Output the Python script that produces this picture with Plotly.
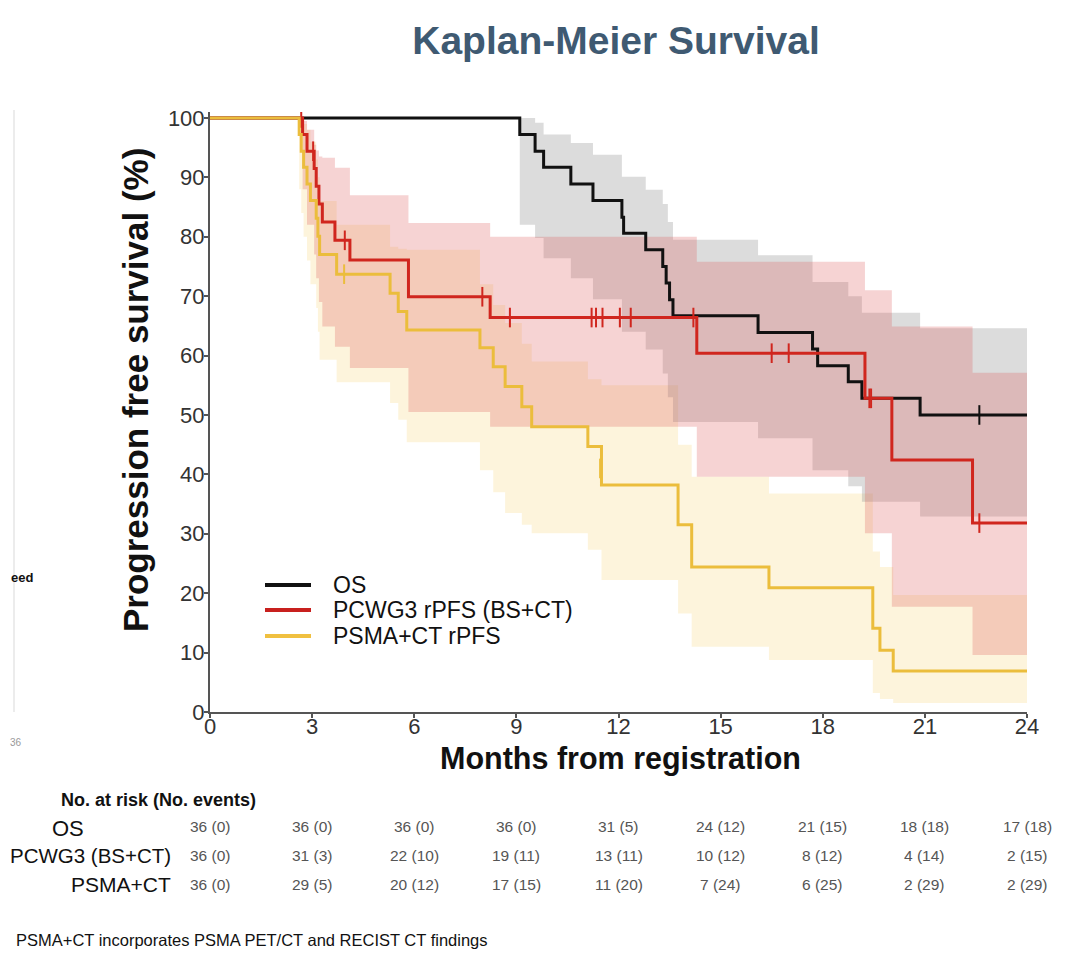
import plotly.graph_objects as go

# ---------------- data ----------------
# Kaplan-Meier step curves: times (months) and survival (%)
os_t = [0, 9.1, 9.55, 9.8, 10.6, 11.25, 12.1, 12.15, 12.8, 13.3, 13.4, 13.5, 13.6, 16.1, 17.7, 17.85, 18.75, 19.15, 20.86, 24]
os_s = [100, 97.2, 94.4, 91.7, 88.9, 86.1, 83.3, 80.6, 77.8, 75.0, 72.2, 69.4, 66.7, 63.9, 61.1, 58.3, 55.6, 52.8, 50.0, 50.0]
os_cens_t = [22.6]
os_cens_s = [50.0]

pc_t = [0, 2.72, 2.85, 3.06, 3.12, 3.2, 3.3, 3.67, 4.11, 5.83, 8.23, 14.3, 19.24, 20.03, 22.4, 24]
pc_s = [100, 97.2, 94.4, 91.5, 88.5, 85.5, 82.5, 79.4, 76.1, 69.9, 66.4, 60.4, 52.8, 42.4, 31.8, 31.8]
pc_cens_t = [2.68, 3.03, 3.96, 8.0, 8.81, 11.21, 11.34, 11.53, 12.04, 12.36, 14.2, 16.5, 17.0, 19.37, 19.42, 22.6]
pc_cens_s = [100, 94.4, 79.4, 69.9, 66.4, 66.4, 66.4, 66.4, 66.4, 66.4, 66.4, 60.4, 60.4, 52.8, 52.8, 31.8]

ps_t = [0, 2.62, 2.68, 2.75, 2.85, 2.95, 3.12, 3.17, 3.22, 3.72, 5.29, 5.53, 5.78, 7.93, 8.32, 8.67, 9.16, 9.45,
        11.1, 11.5, 13.75, 14.15, 16.42, 19.47, 19.68, 20.07, 24]
ps_s = [100, 97.2, 94.4, 91.7, 88.9, 86.1, 83.1, 80.1, 77.0, 73.7, 70.5, 67.4, 64.3, 61.3, 58.1, 54.8, 51.4, 48.0,
        44.7, 38.2, 31.5, 24.4, 20.9, 14.1, 10.4, 6.9, 6.9]
ps_cens_t = [3.94, 11.46]
ps_cens_s = [73.7, 41.0]

# Confidence bands (step functions): times, upper, lower
os_band_t = [9.1, 9.55, 9.8, 10.6, 11.25, 12.1, 12.8, 13.3, 13.45, 13.6, 16.1, 17.7, 18.75, 19.15, 20.86, 24]
os_band_hi = [100, 99.2, 97.2, 95.8, 93.8, 90.1, 87.9, 85.5, 82.5, 79.5, 76.9, 72.4, 70.0, 67.2, 64.6, 64.6]
os_band_lo = [82, 79.8, 76.4, 73.0, 69.5, 64.0, 61.0, 57.0, 53.0, 48.8, 46.1, 40.7, 38.0, 35.4, 32.9, 32.9]

pc_band_t = [2.72, 2.85, 3.06, 3.12, 3.2, 3.3, 3.67, 4.11, 5.83, 8.23, 14.3, 19.24, 20.03, 22.4, 24]
pc_band_hi = [99.5, 98, 95.5, 94.5, 93.5, 93.3, 91.6, 87.0, 82.3, 80.0, 75.8, 71.0, 64.9, 57.1, 57.1]
pc_band_lo = [88, 82, 77, 73, 69, 64.9, 61.5, 57.9, 50.5, 48.0, 39.6, 30.1, 17.7, 9.6, 9.6]

ps_band_t = [2.62, 2.68, 2.75, 2.85, 2.95, 3.12, 3.17, 3.22, 3.72, 5.29, 5.53, 5.78, 7.93, 8.32, 8.67, 9.16, 9.45,
             11.1, 11.5, 13.75, 14.15, 16.42, 19.47, 19.68, 20.07, 24]
ps_band_hi = [100, 99.5, 99, 98, 96, 93, 90, 86, 82, 78.3, 78, 77.8, 72, 68.5, 65.5, 62, 59,
              56, 55, 45, 39.6, 36.8, 27, 24.4, 19.7, 19.7]
ps_band_lo = [88, 84, 80, 76, 72, 68, 64, 59.3, 55.5, 52, 49.2, 45.4, 40.7, 37, 33.5, 31.5, 30.1,
              27.3, 22.2, 16.6, 11.0, 8.75, 3.2, 2.2, 1.5, 1.5]

# Number-at-risk table
risk_months = [0, 3, 6, 9, 12, 15, 18, 21, 24]
risk_os = ["36 (0)", "36 (0)", "36 (0)", "36 (0)", "31 (5)", "24 (12)", "21 (15)", "18 (18)", "17 (18)"]
risk_pc = ["36 (0)", "31 (3)", "22 (10)", "19 (11)", "13 (11)", "10 (12)", "8 (12)", "4 (14)", "2 (15)"]
risk_ps = ["36 (0)", "29 (5)", "20 (12)", "17 (15)", "11 (20)", "7 (24)", "6 (25)", "2 (29)", "2 (29)"]

x_ticks = [0, 3, 6, 9, 12, 15, 18, 21, 24]
y_ticks = [0, 10, 20, 30, 40, 50, 60, 70, 80, 90, 100]

legend_names = ["OS", "PCWG3 rPFS (BS+CT)", "PSMA+CT rPFS"]

# ---------------- style ----------------
C_OS = "#111111"
C_PC = "#d0261e"
C_PS = "#ebbd3c"
F = "Liberation Sans, Arial, sans-serif"

OFF = 8                      # page body margin
W, H = 1078 - OFF, 958 - OFF
X0, X1 = 210, 1027           # screen pixels of plot left/right
Y0, Y1 = 112, 712            # screen pixels of plot top/bottom
ML, MT = X0 - OFF, Y0 - OFF
MR, MB = W - (X1 - OFF), H - (Y1 - OFF)
PW, PH = X1 - X0, Y1 - Y0


def px(xs):
    return (xs - X0) / PW


def py(ys):
    return (Y1 - ys) / PH


fig = go.Figure()


def add_band(t, lo, hi, color):
    fig.add_trace(go.Scatter(x=t, y=lo, mode="lines", line=dict(width=0, shape="hv"),
                             showlegend=False, hoverinfo="skip"))
    fig.add_trace(go.Scatter(x=t, y=hi, mode="lines", line=dict(width=0, shape="hv"),
                             fill="tonexty", fillcolor=color, showlegend=False, hoverinfo="skip"))


add_band(ps_band_t, ps_band_lo, ps_band_hi, "rgba(245,200,80,0.20)")
add_band(os_band_t, os_band_lo, os_band_hi, "rgba(150,150,150,0.33)")
add_band(pc_band_t, pc_band_lo, pc_band_hi, "rgba(220,80,80,0.25)")

curves = [
    (legend_names[0], os_t, os_s, os_cens_t, os_cens_s, C_OS),
    (legend_names[1], pc_t, pc_s, pc_cens_t, pc_cens_s, C_PC),
    (legend_names[2], ps_t, ps_s, ps_cens_t, ps_cens_s, C_PS),
]
for name, t, s, ct, cs, col in curves:
    fig.add_trace(go.Scatter(x=t, y=s, mode="lines", name=name, showlegend=False,
                             line=dict(color=col, width=3, shape="hv")))
    fig.add_trace(go.Scatter(x=ct, y=cs, mode="markers", showlegend=False,
                             marker=dict(symbol="line-ns", size=14, line=dict(color=col, width=2))))

# ---------------- legend (drawn inside the plot) ----------------
ann = []
shapes = []
legend_cols = [C_OS, "#c8201e", "#f0c040"]
legend_y = [585, 610, 636]
for name, col, ys in zip(legend_names, legend_cols, legend_y):
    shapes.append(dict(type="line", xref="paper", yref="paper", x0=px(265), x1=px(311), y0=py(ys), y1=py(ys),
                       line=dict(color=col, width=4)))
    ann.append(dict(x=px(331), y=py(ys), xref="paper", yref="paper", text=name, showarrow=False,
                    xanchor="left", yanchor="middle", font=dict(family=F, size=23, color="#111111")))

# ---------------- axis titles ----------------
ann.append(dict(x=px(135), y=py(390), xref="paper", yref="paper", text="<b>Progression free survival (%)</b>",
                textangle=-90, showarrow=False, xanchor="center", yanchor="middle",
                font=dict(family=F, size=35, color="#111111")))
ann.append(dict(x=px(620), y=py(739), xref="paper", yref="paper", text="<b>Months from registration</b>",
                showarrow=False, xanchor="center", yanchor="top",
                font=dict(family=F, size=30.5, color="#111111")))

# ---------------- risk table ----------------
rows = [(risk_os, 826), (risk_pc, 855), (risk_ps, 884)]
for vals, ys in rows:
    for m, v in zip(risk_months, vals):
        ann.append(dict(x=m, y=py(ys), xref="x", yref="paper", text=v, showarrow=False,
                        xanchor="center", yanchor="middle", font=dict(family=F, size=15.5, color="#555555")))

ann.append(dict(x=px(59), y=py(800), xref="paper", yref="paper", text="<b>No. at risk (No. events)</b>",
                showarrow=False, xanchor="left", yanchor="middle", font=dict(family=F, size=18, color="#111111")))
ann.append(dict(x=px(86), y=py(828), xref="paper", yref="paper", text="OS",
                showarrow=False, xanchor="right", yanchor="middle", font=dict(family=F, size=22, color="#111111")))
ann.append(dict(x=px(173), y=py(855), xref="paper", yref="paper", text="PCWG3 (BS+CT)",
                showarrow=False, xanchor="right", yanchor="middle", font=dict(family=F, size=20.5, color="#111111")))
ann.append(dict(x=px(173), y=py(884), xref="paper", yref="paper", text="PSMA+CT",
                showarrow=False, xanchor="right", yanchor="middle", font=dict(family=F, size=21, color="#111111")))
ann.append(dict(x=px(14), y=py(940), xref="paper", yref="paper",
                text="PSMA+CT incorporates PSMA PET/CT and RECIST CT findings",
                showarrow=False, xanchor="left", yanchor="middle", font=dict(family=F, size=16.5, color="#111111")))
ann.append(dict(x=px(9), y=py(577), xref="paper", yref="paper", text="<b>eed</b>",
                showarrow=False, xanchor="left", yanchor="middle", font=dict(family=F, size=13, color="#111111")))
ann.append(dict(x=px(16), y=py(742), xref="paper", yref="paper", text="36",
                showarrow=False, xanchor="center", yanchor="middle", font=dict(family=F, size=10, color="#999999")))

shapes.append(dict(type="line", xref="paper", yref="paper", x0=px(14), x1=px(14), y0=py(712), y1=py(110),
                   line=dict(color="#ececec", width=2)))

fig.update_layout(
    width=W, height=H,
    margin=dict(l=ML, r=MR, t=MT, b=MB),
    paper_bgcolor="white", plot_bgcolor="white",
    showlegend=False,
    title=dict(text="<b>Kaplan-Meier Survival</b>", x=px(616), xref="paper", xanchor="center",
               y=1 - (40 - OFF) / H, yref="container", yanchor="middle",
               font=dict(family=F, size=39, color="#3f5a72")),
    xaxis=dict(range=[0, 24], tickvals=x_ticks, ticks="outside", ticklen=4, tickwidth=1.5, tickcolor="#555555",
               showline=True, linecolor="#555555", linewidth=2, showgrid=False, zeroline=False,
               ticklabelstandoff=-10,
               tickfont=dict(family=F, size=22, color="#333333")),
    yaxis=dict(range=[0, 101], tickvals=y_ticks, ticks="outside", ticklen=4, tickwidth=1.5, tickcolor="#555555",
               showline=True, linecolor="#555555", linewidth=2, showgrid=False, zeroline=False,
               ticklabelstandoff=-5,
               tickfont=dict(family=F, size=22, color="#333333")),
    annotations=ann,
    shapes=shapes,
)

fig.write_html("out.html")
